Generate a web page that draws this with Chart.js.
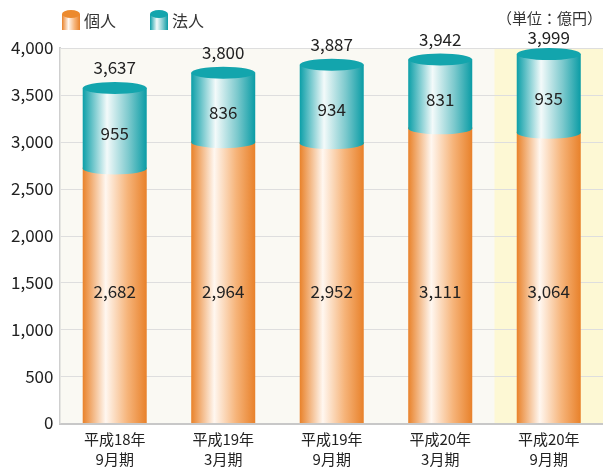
<!DOCTYPE html>
<html>
<head>
<meta charset="utf-8">
<script src="https://cdn.jsdelivr.net/npm/chart.js@4"></script>
<style>
  html, body { margin: 0; padding: 0; background: #fff; }
  #wrap { width: 603px; height: 468px; }
</style>
</head>
<body>
<div id="wrap"><canvas id="myChart" width="603" height="468"></canvas></div>
<script>
// data (億円)
const periods = [['平成18年', '9月期'], ['平成19年', '3月期'], ['平成19年', '9月期'], ['平成20年', '3月期'], ['平成20年', '9月期']];
const kojin = [2682, 2964, 2952, 3111, 3064];
const hojin = [955, 836, 934, 831, 935];
const totals = [3637, 3800, 3887, 3942, 3999];
const seriesNames = ['個人', '法人'];
const unitLabel = '（単位：億円）';

const FONT = '"Noto Sans CJK JP", "Noto Sans", sans-serif';
const fmt = v => v.toLocaleString('en-US');

function bodyGradient(ctx, xL, xR, kind) {
    const g = ctx.createLinearGradient(xL, 0, xR, 0);
    if (kind === 'orange') {
        g.addColorStop(0, '#e9822a');
        g.addColorStop(0.36, '#fff7f0');
        g.addColorStop(0.7, '#f6b47a');
        g.addColorStop(1, '#e8812a');
    } else {
        g.addColorStop(0, '#0c9fa8');
        g.addColorStop(0.38, '#f3fafa');
        g.addColorStop(0.72, '#7cc9cd');
        g.addColorStop(1, '#0a9ca5');
    }
    return g;
}

// draws one cylinder body (used for bars and legend icons)
function cylinder(ctx, xL, xR, yTop, yBot, ry, kind, flatBottom) {
    const cx = (xL + xR) / 2, rx = (xR - xL) / 2;
    ctx.save();
    ctx.beginPath();
    ctx.moveTo(xL, yTop);
    ctx.lineTo(xL, yBot);
    if (flatBottom) ctx.lineTo(xR, yBot);
    else ctx.ellipse(cx, yBot, rx, ry, 0, Math.PI, 0, true);
    ctx.lineTo(xR, yTop);
    ctx.closePath();
    ctx.fillStyle = bodyGradient(ctx, xL, xR, kind);
    ctx.fill();
    ctx.restore();
}

function cap(ctx, xL, xR, yc, ry, kind) {
    const cx = (xL + xR) / 2, rx = (xR - xL) / 2;
    ctx.save();
    ctx.beginPath();
    ctx.ellipse(cx, yc, rx, ry, 0, 0, Math.PI * 2);
    ctx.fillStyle = kind === 'orange' ? '#ec8a2e' : '#13a5ad';
    ctx.fill();
    ctx.restore();
}

const cylinderPlugin = {
    id: 'cylinders',
    beforeDatasetsDraw(chart) {
        const { ctx, chartArea, scales } = chart;
        ctx.save();
        ctx.fillStyle = '#faf9f3';
        ctx.fillRect(chartArea.left, chartArea.top, chartArea.right - chartArea.left, chartArea.bottom - chartArea.top);
        // highlighted latest period
        const n = periods.length;
        const step = (chartArea.right - chartArea.left) / n;
        const x0 = scales.x.getPixelForValue(n - 1) - step / 2;
        ctx.fillStyle = '#fdf8d4';
        ctx.fillRect(x0, chartArea.top, chartArea.right - x0, chartArea.bottom - chartArea.top);
        // grid lines over the background
        ctx.strokeStyle = '#dedede';
        ctx.lineWidth = 1;
        scales.y.ticks.forEach(t => {
            if (t.value === 0) return;
            const y = Math.round(scales.y.getPixelForValue(t.value)) + 0.5;
            ctx.beginPath();
            ctx.moveTo(chartArea.left, y);
            ctx.lineTo(chartArea.right, y);
            ctx.stroke();
        });
        ctx.restore();
    },
    afterDatasetsDraw(chart) {
        const { ctx, scales } = chart;
        const m0 = chart.getDatasetMeta(0), m1 = chart.getDatasetMeta(1);
        const ry = 6;
        m0.data.forEach((el0, i) => {
            const el1 = m1.data[i];
            const xL = el0.x - el0.width / 2, xR = el0.x + el0.width / 2;
            const yBase = el0.base, yMid = el0.y, yTop = el1.y;
            cylinder(ctx, xL, xR, yMid - 4, yBase, ry, 'orange', true);
            cylinder(ctx, xL, xR, yTop + ry, yMid - 3, ry, 'teal', false);
            cap(ctx, xL, xR, yTop + ry, ry, 'teal');

            ctx.save();
            ctx.fillStyle = '#222';
            ctx.font = '17px ' + FONT;
            ctx.textAlign = 'center';
            ctx.textBaseline = 'middle';
            ctx.fillText(fmt(totals[i]), el0.x, Math.max(yTop - 14, 38));
            ctx.fillText(fmt(hojin[i]), el0.x, (yTop + yMid) / 2 + 7);
            ctx.fillText(fmt(kojin[i]), el0.x, scales.y.getPixelForValue(1400));
            ctx.restore();
        });

        // legend and unit
        ctx.save();
        ctx.font = '16px ' + FONT;
        ctx.fillStyle = '#333';
        ctx.textBaseline = 'middle';
        const lx = [62, 150];
        ['orange', 'teal'].forEach((k, j) => {
            cylinder(ctx, lx[j], lx[j] + 18, 14, 30, 4, k, true);
            cap(ctx, lx[j], lx[j] + 18, 14, 4, k);
            ctx.fillText(seriesNames[j], lx[j] + 22, 21);
        });
        ctx.font = '15px ' + FONT;
        ctx.textAlign = 'right';
        ctx.fillText(unitLabel, 602, 18);
        ctx.restore();
    }
};

const ctx = document.getElementById('myChart').getContext('2d');
const myChart = new Chart(ctx, {
    type: 'bar',
    data: {
        labels: periods,
        datasets: [
            { label: seriesNames[0], data: kojin, backgroundColor: 'rgba(0,0,0,0)' },
            { label: seriesNames[1], data: hojin, backgroundColor: 'rgba(0,0,0,0)' }
        ]
    },
    options: {
        responsive: false,
        animation: false,
        layout: { padding: { top: 48, right: 0, left: 4, bottom: -8 } },
        datasets: { bar: { categoryPercentage: 1, barPercentage: 0.59 } },
        plugins: { legend: { display: false }, tooltip: { enabled: false } },
        scales: {
            x: {
                stacked: true,
                grid: { display: false, drawTicks: false },
                border: { color: '#c8c8c8', width: 3 },
                ticks: { color: '#222', font: { family: FONT, size: 15, lineHeight: 1.3 }, padding: 7 }
            },
            y: {
                stacked: true,
                min: 0,
                max: 4000,
                grid: { display: false, drawTicks: false },
                border: { color: '#cfcfcf', width: 2 },
                ticks: {
                    stepSize: 500,
                    color: '#222',
                    padding: 7,
                    font: { family: FONT, size: 17 },
                    callback: v => fmt(v)
                }
            }
        }
    },
    plugins: [cylinderPlugin]
});
</script>
</body>
</html>
